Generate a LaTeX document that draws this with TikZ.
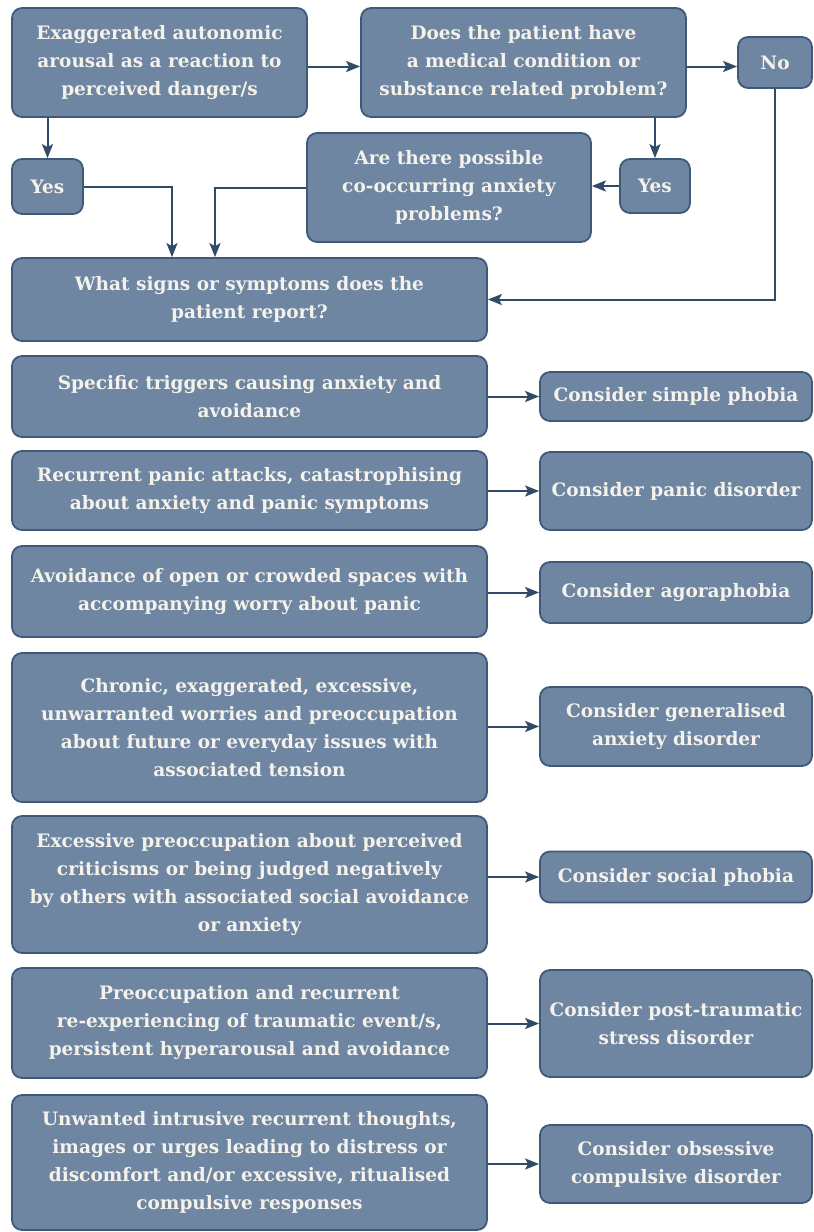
\documentclass[tikz,border=0pt]{standalone}
\usepackage{fontspec}
\setmainfont{DejaVu Serif}
\usetikzlibrary{arrows.meta}

\definecolor{boxfill}{HTML}{6E86A2}
\definecolor{boxline}{HTML}{3F5A78}
\definecolor{arrowline}{HTML}{2F4B68}
\definecolor{boxtext}{HTML}{F4F2EA}

\newcommand{\leftwidth}{475pt}
\newcommand{\rightwidth}{272pt}
\newcommand{\leftcol}{249.5}
\newcommand{\rightcol}{676}

\begin{document}
\begin{tikzpicture}[
    x=1pt, y=-1pt,
    step box/.style={draw=boxline, line width=1.8pt, fill=boxfill, rounded corners=10pt,
        text=boxtext, font=\fontsize{18.5}{28}\selectfont\bfseries, align=center, inner sep=0pt},
    flow arrow/.style={draw=arrowline, line width=2pt, -{Stealth[length=14pt, width=11pt, inset=3pt]}}
]
\useasboundingbox (0,0) rectangle (814,1232);

% QUESTIONS
\node[step box, minimum width=295pt, minimum height=109pt] (arousal) at (159.5,62.5)
    {Exaggerated autonomic\\arousal as a reaction to\\perceived danger/s};
\node[step box, minimum width=325pt, minimum height=109pt] (medical) at (523.5,62.5)
    {Does the patient have\\a medical condition or\\substance related problem?};
\node[step box, minimum width=74pt, minimum height=51pt] (answer_no) at (775,62.5) {No};
\node[step box, minimum width=71pt, minimum height=55pt] (answer_yes_left) at (47.5,186.5) {Yes};
\node[step box, minimum width=284pt, minimum height=109pt] (co_occurring) at (449,187.5)
    {Are there possible\\co-occurring anxiety\\problems?};
\node[step box, minimum width=70pt, minimum height=54pt] (answer_yes_right) at (655,186) {Yes};
\node[step box, minimum width=\leftwidth, minimum height=83pt] (symptoms) at (\leftcol,299.5)
    {What signs or symptoms does the\\patient report?};

% SYMPTOMS
\node[step box, minimum width=\leftwidth, minimum height=81pt] (sign_phobia) at (\leftcol,396.5)
    {Specific triggers causing anxiety and\\avoidance};
\node[step box, minimum width=\leftwidth, minimum height=79pt] (sign_panic) at (\leftcol,490.5)
    {Recurrent panic attacks, catastrophising\\about anxiety and panic symptoms};
\node[step box, minimum width=\leftwidth, minimum height=91pt] (sign_agora) at (\leftcol,591.5)
    {Avoidance of open or crowded spaces with\\accompanying worry about panic};
\node[step box, minimum width=\leftwidth, minimum height=149pt] (sign_general) at (\leftcol,727.5)
    {Chronic, exaggerated, excessive,\\unwarranted worries and preoccupation\\about future or everyday issues with\\associated tension};
\node[step box, minimum width=\leftwidth, minimum height=137pt] (sign_social) at (\leftcol,884.5)
    {Excessive preoccupation about perceived\\criticisms or being judged negatively\\by others with associated social avoidance\\or anxiety};
\node[step box, minimum width=\leftwidth, minimum height=110pt] (sign_trauma) at (\leftcol,1023)
    {Preoccupation and recurrent\\re-experiencing of traumatic event/s,\\persistent hyperarousal and avoidance};
\node[step box, minimum width=\leftwidth, minimum height=135pt] (sign_obsess) at (\leftcol,1162.5)
    {Unwanted intrusive recurrent thoughts,\\images or urges leading to distress or\\discomfort and/or excessive, ritualised\\compulsive responses};

% DIAGNOSES
\node[step box, minimum width=\rightwidth, minimum height=49pt] (consider_phobia) at (\rightcol,396.5)
    {Consider simple phobia};
\node[step box, minimum width=\rightwidth, minimum height=78pt] (consider_panic) at (\rightcol,491)
    {Consider panic disorder};
\node[step box, minimum width=\rightwidth, minimum height=61pt] (consider_agora) at (\rightcol,592.5)
    {Consider agoraphobia};
\node[step box, minimum width=\rightwidth, minimum height=79pt] (consider_general) at (\rightcol,726.5)
    {Consider generalised\\anxiety disorder};
\node[step box, minimum width=\rightwidth, minimum height=51pt] (consider_social) at (\rightcol,877)
    {Consider social phobia};
\node[step box, minimum width=\rightwidth, minimum height=107pt] (consider_trauma) at (\rightcol,1023.5)
    {Consider post-traumatic\\stress disorder};
\node[step box, minimum width=\rightwidth, minimum height=78pt] (consider_obsess) at (\rightcol,1164)
    {Consider obsessive\\compulsive disorder};

% CONNECTORS
\draw[flow arrow] ([yshift=-4pt]arousal.east) -- ([yshift=-4pt]medical.west);
\draw[flow arrow] ([yshift=-4pt]medical.east) -- ([yshift=-4pt]answer_no.west);
\draw[flow arrow] (arousal.south -| answer_yes_left) -- (answer_yes_left.north);
\draw[flow arrow] (medical.south -| answer_yes_right) -- (answer_yes_right.north);
\draw[flow arrow] (answer_yes_right.west) -- (answer_yes_right.west -| co_occurring.east);
\draw[flow arrow] (answer_yes_left.east) -| ([xshift=-77.5pt]symptoms.north);
\draw[flow arrow] (co_occurring.west) -| ([xshift=-34.5pt]symptoms.north);
\draw[flow arrow] (answer_no.south) |- (symptoms.east);

\foreach \row in {phobia,panic,agora,general,social,trauma,obsess}
    \draw[flow arrow] (sign_\row.east |- consider_\row.west) -- (consider_\row.west);

\end{tikzpicture}
\end{document}
